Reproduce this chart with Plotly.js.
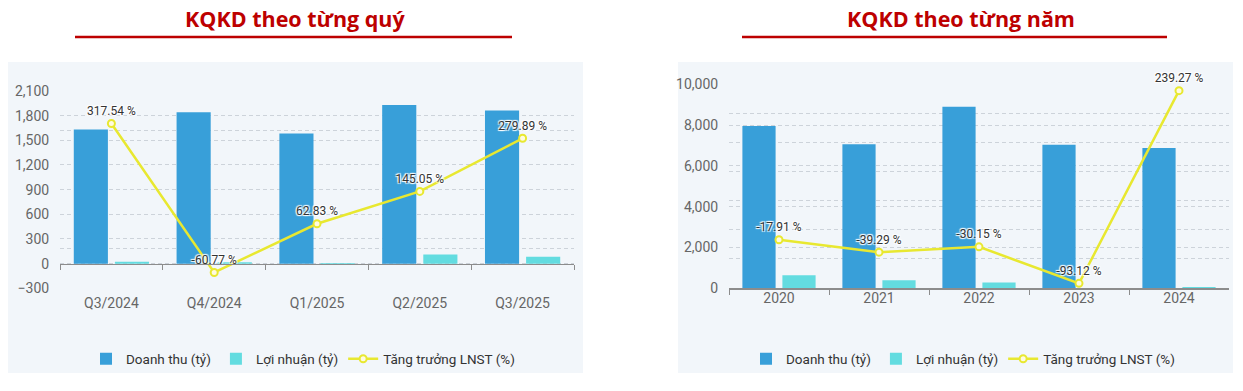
<!DOCTYPE html>
<html>
<head>
<meta charset="utf-8">
<script src="https://cdn.plot.ly/plotly-3.0.1.min.js"></script>
<style>
html,body{margin:0;padding:0;background:#fff;}
#chart{width:1243px;height:391px;}
</style>
</head>
<body>
<div id="chart"></div>
<script>
// ---- data ----
const quarters = ['Q3/2024', 'Q4/2024', 'Q1/2025', 'Q2/2025', 'Q3/2025'];
const qRevenue = [1632, 1840, 1584, 1929, 1864];
const qProfit = [22, 18, 9, 110, 83];
const qGrowth = [317.54, -60.77, 62.83, 145.05, 279.89];

const years = ['2020', '2021', '2022', '2023', '2024'];
const yRevenue = [7956, 7059, 8902, 7039, 6877];
const yProfit = [640, 395, 280, 19, 65];
const yGrowth = [-17.91, -39.29, -30.15, -93.12, 239.27];

const seriesNames = ['Doanh thu (tỷ)', 'Lợi nhuận (tỷ)', 'Tăng trưởng LNST (%)'];
const titles = ['KQKD theo từng quý', 'KQKD theo từng năm'];

// ---- styling / geometry ----
const W = 1243, H = 391;
const fx = p => p / W;
const fy = p => (H - p) / H;
const FONT = "Roboto, sans-serif";
const BLUE = '#389fd9', CYAN = '#63dce0', YEL = '#e8e830', RED = '#bd0000';
const GRID = '#cdd3da', PANEL = '#f2f6fa', AXIS = '#8c8c8c';

const qRange = [-300, 2100], qRange2 = [-101, 400];
const yRangeA = [0, 10000], yRangeA2 = [-101.7, 250.3];

const leftX = [fx(60), fx(574)], leftY = [fy(288.3), fy(91)];
const rightX = [fx(729), fx(1229)], rightY = [fy(288.3), fy(84.3)];
const zeroPos = leftY[0] + (0 - qRange[0]) / (qRange[1] - qRange[0]) * (leftY[1] - leftY[0]);

const pct = arr => arr.map(v => v.toFixed(2) + ' %');

const labelFont = {family: FONT, size: 12, color: '#333', shadow: '1px 1px 1px #fff, -1px -1px 1px #fff, 1px -1px 1px #fff, -1px 1px 1px #fff'};

const traces = [
  {type: 'bar', x: quarters, y: qRevenue, name: seriesNames[0], marker: {color: BLUE}, xaxis: 'x', yaxis: 'y', legend: 'legend'},
  {type: 'bar', x: quarters, y: qProfit, name: seriesNames[1], marker: {color: CYAN}, xaxis: 'x', yaxis: 'y', legend: 'legend'},
  {type: 'scatter', mode: 'lines+markers+text', x: quarters, y: qGrowth, name: seriesNames[2],
   text: pct(qGrowth), textposition: 'top center', textfont: labelFont,
   line: {color: YEL, width: 2.5}, marker: {color: '#fffbe0', size: 7, line: {color: YEL, width: 2}},
   xaxis: 'x', yaxis: 'y3', legend: 'legend', cliponaxis: false},
  {type: 'bar', x: years, y: yRevenue, name: seriesNames[0], marker: {color: BLUE}, xaxis: 'x2', yaxis: 'y2', legend: 'legend2'},
  {type: 'bar', x: years, y: yProfit, name: seriesNames[1], marker: {color: CYAN}, xaxis: 'x2', yaxis: 'y2', legend: 'legend2'},
  {type: 'scatter', mode: 'lines+markers+text', x: years, y: yGrowth, name: seriesNames[2],
   text: pct(yGrowth), textposition: 'top center', textfont: labelFont,
   line: {color: YEL, width: 2.5}, marker: {color: '#fffbe0', size: 7, line: {color: YEL, width: 2}},
   xaxis: 'x2', yaxis: 'y4', legend: 'legend2', cliponaxis: false}
];

const tickFont = {family: FONT, size: 14, color: '#666'};
const gridY = {showgrid: true, gridcolor: GRID, griddash: '4px,3px', gridwidth: 1, zeroline: false,
  tickfont: tickFont, ticks: 'outside', ticklen: 7, tickcolor: 'rgba(0,0,0,0)', tickformat: ',d', showline: false, fixedrange: true};

const legendBase = {orientation: 'h', xanchor: 'center', yanchor: 'middle', bgcolor: 'rgba(0,0,0,0)',
  font: {family: FONT, size: 13.5, color: '#333'}, itemwidth: 30, traceorder: 'normal'};

const layout = {
  width: W, height: H,
  margin: {l: 0, r: 0, t: 0, b: 0},
  paper_bgcolor: '#fff', plot_bgcolor: 'rgba(0,0,0,0)',
  barmode: 'group', bargap: 0.2, bargroupgap: 0.17,
  showlegend: true,
  xaxis: {domain: leftX, anchor: 'free', position: zeroPos, type: 'category',
    showline: true, linecolor: AXIS, linewidth: 1.5, ticks: 'outside', tickson: 'boundaries', ticklen: 5, tickcolor: AXIS,
    tickfont: tickFont, ticklabelstandoff: 26, showgrid: false, zeroline: false, fixedrange: true},
  yaxis: Object.assign({}, gridY, {domain: leftY, anchor: 'x', range: qRange, dtick: 300, tick0: 0}),
  yaxis3: {overlaying: 'y', anchor: 'x', side: 'right', range: qRange2, dtick: 150, tick0: 0,
    showticklabels: false, showgrid: true, gridcolor: GRID, griddash: '4px,3px', zeroline: false, ticks: '', fixedrange: true},
  xaxis2: {domain: rightX, anchor: 'y2', type: 'category',
    showline: true, linecolor: AXIS, linewidth: 1.5, ticks: 'outside', tickson: 'boundaries', ticklen: 5, tickcolor: AXIS,
    tickfont: tickFont, ticklabelstandoff: -4, showgrid: false, zeroline: false, fixedrange: true},
  yaxis2: Object.assign({}, gridY, {domain: rightY, anchor: 'x2', range: yRangeA, dtick: 2000, tick0: 0}),
  yaxis4: {overlaying: 'y2', anchor: 'x2', side: 'right', range: yRangeA2, dtick: 50, tick0: 0,
    showticklabels: false, showgrid: true, gridcolor: GRID, griddash: '4px,3px', zeroline: false, ticks: '', fixedrange: true},
  legend: Object.assign({}, legendBase, {x: fx(303), y: fy(359)}),
  legend2: Object.assign({}, legendBase, {x: fx(963), y: fy(359)}),
  shapes: [
    {type: 'rect', xref: 'paper', yref: 'paper', x0: fx(8), x1: fx(583), y0: fy(373), y1: fy(62), fillcolor: PANEL, line: {width: 0}, layer: 'below'},
    {type: 'rect', xref: 'paper', yref: 'paper', x0: fx(678), x1: fx(1233), y0: fy(373), y1: fy(62), fillcolor: PANEL, line: {width: 0}, layer: 'below'},
    {type: 'line', xref: 'paper', yref: 'paper', x0: fx(75), x1: fx(512), y0: fy(37), y1: fy(37), line: {color: RED, width: 2.5}},
    {type: 'line', xref: 'paper', yref: 'paper', x0: fx(742), x1: fx(1167), y0: fy(37), y1: fy(37), line: {color: RED, width: 2.5}}
  ],
  annotations: [
    {text: titles[0], xref: 'paper', yref: 'paper', x: fx(295), y: fy(19), xanchor: 'center', yanchor: 'middle', showarrow: false,
     font: {family: "'Open Sans', sans-serif", size: 21.5, color: RED, weight: 700}},
    {text: titles[1], xref: 'paper', yref: 'paper', x: fx(961), y: fy(19), xanchor: 'center', yanchor: 'middle', showarrow: false,
     font: {family: "'Open Sans', sans-serif", size: 21.5, color: RED, weight: 700}}
  ],
  hovermode: false
};

Plotly.newPlot('chart', traces, layout, {displayModeBar: false, staticPlot: true});
</script>
</body>
</html>
